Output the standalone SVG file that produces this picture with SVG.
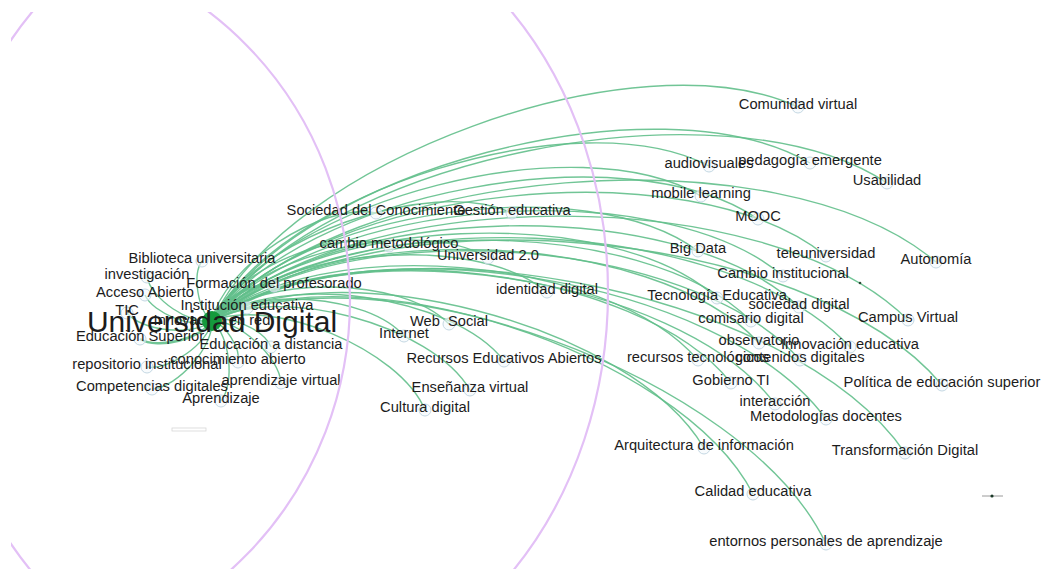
<svg xmlns="http://www.w3.org/2000/svg" width="1043" height="569" viewBox="0 0 1043 569">
<style>
.e{fill:none;stroke:#62bf8b;stroke-width:1.4;stroke-opacity:0.9}
.w{stroke-width:2.6}
.n{fill:#f4f8fb;fill-opacity:0.6;stroke:#c5d8e3;stroke-width:1}
.t{font-family:"Liberation Sans",Arial,sans-serif;font-size:14.7px;fill:#1c1c1c;text-anchor:middle}
.big{font-size:30px}
.ring{fill:none;stroke:#e3c0f6;stroke-width:2.2}
</style>
<defs>
<clipPath id="frame"><rect x="11" y="12" width="1032" height="557"/></clipPath>
</defs>
<rect width="1043" height="569" fill="#ffffff"/>
<g id="connectors">
<path class="e" d="M212,321 C286.4,161 638,32.6 798,107"/>
<path class="e" d="M212,321 C280.4,190.6 578.6,97.6 709,166"/>
<path class="e" d="M212,321 C300,169.8 658.8,75 810,163"/>
<path class="e" d="M212,321 C319.4,158.4 724.4,75.6 887,183"/>
<path class="e" d="M212,321 C284.8,198.2 578.2,123.2 701,196"/>
<path class="e" d="M212,321 C300.8,191.4 628.4,130.2 758,219"/>
<path class="e" d="M212,321 C295.2,209.8 586.8,167.8 698,251"/>
<path class="e" d="M212,321 C321.8,185.2 690.2,146.2 826,256"/>
<path class="e" d="M212,321 C317.2,197.8 659.8,170.8 783,276"/>
<path class="e" d="M212,321 C345,164.4 779.4,129 936,262"/>
<path class="e" d="M212,321 C308.4,215.4 611.4,201.6 717,298"/>
<path class="e" d="M212,321 C326.6,200.8 678.8,192.4 799,307"/>
<path class="e" d="M212,321 C319.8,213.2 643.2,213.2 751,321"/>
<path class="e" d="M212,321 C351,181.6 768.6,181 908,320"/>
<path class="e" d="M212,321 C325.8,216 654,229.2 759,343"/>
<path class="e" d="M212,321 C344.8,198.6 727.6,214.2 850,347"/>
<path class="e" d="M212,321 C317,231.6 608.6,255 698,360"/>
<path class="e" d="M212,321 C337.4,211.2 690.2,234.6 800,360"/>
<path class="e" d="M212,321 C328.2,229.6 639.6,266.8 731,383"/>
<path class="e" d="M212,321 C370.8,187.8 808.8,226.2 942,385"/>
<path class="e" d="M212,321 C341.2,225 679,274.8 775,404"/>
<path class="e" d="M212,321 C354.4,217.8 722.8,276.6 826,419"/>
<path class="e" d="M212,321 C377,208.8 792.8,288 905,453"/>
<path class="e" d="M212,321 C335.8,248 631,324.2 704,448"/>
<path class="e" d="M212,321 C354.8,247.4 679.4,351.2 753,494"/>
<path class="e" d="M212,321 C379.4,242.8 747.8,376.6 826,544"/>
<path class="e" d="M212,321 C223.2,266.6 321.6,201.8 376,213"/>
<path class="e" d="M212,321 C250.4,239.4 430.4,174.6 512,213"/>
<path class="e" d="M212,321 C232.4,270.6 338.6,225.6 389,246"/>
<path class="e" d="M212,321 C254.6,253.2 420.2,215.4 488,258"/>
<path class="e" d="M212,321 C273.2,248.2 474.2,230.8 547,292"/>
<path class="e" d="M212,321 C260,274.2 402.2,276 449,324"/>
<path class="e" d="M212,321 C253.4,285.6 368.6,294.6 404,336"/>
<path class="e" d="M212,321 C278.4,270.6 453.6,294.6 504,361"/>
<path class="e" d="M212,321 C277.4,283.2 432.2,324.6 470,390"/>
<path class="e" d="M212,321 C272.4,296.2 400.2,349.6 425,410"/>
<path class="e" d="M212,321 C198,311 192,275 202,261"/>
<path class="e" d="M212,321 C190.2,325.2 151.2,298.8 147,277"/>
<path class="e w" d="M212,321 C217.4,301.6 254.6,280.6 274,286"/>
<path class="e" d="M212,321 C193.4,329.2 153.2,313.6 145,295"/>
<path class="e" d="M212,321 C193.4,336.4 142.4,331.6 127,313"/>
<path class="e w" d="M212,321 C216.4,311.4 237.4,303.6 247,308"/>
<path class="e w" d="M212,321 C201.2,339 158,349.8 140,339"/>
<path class="e" d="M212,321 C229,314.4 264.4,330 271,347"/>
<path class="e" d="M212,321 C208.2,343.2 169.2,370.8 147,367"/>
<path class="e" d="M212,321 C225.4,324 241,348.6 238,362"/>
<path class="e" d="M212,321 C213.6,346.6 177.6,387.4 152,389"/>
<path class="e" d="M212,321 C238.2,319.6 279.6,356.8 281,383"/>
<path class="e" d="M212,321 C229.8,335.2 235.2,383.2 221,401"/>
</g>
<g id="nodes">
<g id="n-comunidad-virtual"><circle class="n" cx="798" cy="107" r="6"/><text class="t" x="798" y="109">Comunidad virtual</text></g>
<g id="n-audiovisuales"><circle class="n" cx="709" cy="166" r="6"/><text class="t" x="709" y="168">audiovisuales</text></g>
<g id="n-pedagogia-emergente"><circle class="n" cx="810" cy="163" r="6"/><text class="t" x="810" y="165">pedagogía emergente</text></g>
<g id="n-usabilidad"><circle class="n" cx="887" cy="183" r="6"/><text class="t" x="887" y="185">Usabilidad</text></g>
<g id="n-mobile-learning"><circle class="n" cx="701" cy="196" r="6"/><text class="t" x="701" y="198">mobile learning</text></g>
<g id="n-mooc"><circle class="n" cx="758" cy="219" r="6"/><text class="t" x="758" y="221">MOOC</text></g>
<g id="n-big-data"><circle class="n" cx="698" cy="251" r="6"/><text class="t" x="698" y="253">Big Data</text></g>
<g id="n-teleuniversidad"><circle class="n" cx="826" cy="256" r="6"/><text class="t" x="826" y="258">teleuniversidad</text></g>
<g id="n-cambio-institucional"><circle class="n" cx="783" cy="276" r="6"/><text class="t" x="783" y="278">Cambio institucional</text></g>
<g id="n-autonomia"><circle class="n" cx="936" cy="262" r="6"/><text class="t" x="936" y="264">Autonomía</text></g>
<g id="n-tecnologia-educativa"><circle class="n" cx="717" cy="298" r="6"/><text class="t" x="717" y="300">Tecnología Educativa</text></g>
<g id="n-sociedad-digital"><circle class="n" cx="799" cy="307" r="6"/><text class="t" x="799" y="309">sociedad digital</text></g>
<g id="n-comisario-digital"><circle class="n" cx="751" cy="321" r="6"/><text class="t" x="751" y="323">comisario digital</text></g>
<g id="n-campus-virtual"><circle class="n" cx="908" cy="320" r="6"/><text class="t" x="908" y="322">Campus Virtual</text></g>
<g id="n-observatorio"><circle class="n" cx="759" cy="343" r="6"/><text class="t" x="759" y="345">observatorio</text></g>
<g id="n-innovacion-educativa"><circle class="n" cx="850" cy="347" r="6"/><text class="t" x="850" y="349">Innovación educativa</text></g>
<g id="n-recursos-tecnologicos"><circle class="n" cx="698" cy="360" r="6"/><text class="t" x="698" y="362">recursos tecnológicos</text></g>
<g id="n-contenidos-digitales"><circle class="n" cx="800" cy="360" r="6"/><text class="t" x="800" y="362">contenidos digitales</text></g>
<g id="n-gobierno-ti"><circle class="n" cx="731" cy="383" r="6"/><text class="t" x="731" y="385">Gobierno TI</text></g>
<g id="n-politica"><circle class="n" cx="942" cy="385" r="6"/><text class="t" x="942" y="387">Política de educación superior</text></g>
<g id="n-interaccion"><circle class="n" cx="775" cy="404" r="6"/><text class="t" x="775" y="406">interacción</text></g>
<g id="n-metodologias"><circle class="n" cx="826" cy="419" r="6"/><text class="t" x="826" y="421">Metodologías docentes</text></g>
<g id="n-transformacion"><circle class="n" cx="905" cy="453" r="6"/><text class="t" x="905" y="455">Transformación Digital</text></g>
<g id="n-arquitectura"><circle class="n" cx="704" cy="448" r="6"/><text class="t" x="704" y="450">Arquitectura de información</text></g>
<g id="n-calidad"><circle class="n" cx="753" cy="494" r="6"/><text class="t" x="753" y="496">Calidad educativa</text></g>
<g id="n-entornos"><circle class="n" cx="826" cy="544" r="6"/><text class="t" x="826" y="546">entornos personales de aprendizaje</text></g>
<g id="n-sociedad-conocimiento"><circle class="n" cx="376" cy="213" r="6"/><text class="t" x="376" y="215">Sociedad del Conocimiento</text></g>
<g id="n-gestion-educativa"><circle class="n" cx="512" cy="213" r="6"/><text class="t" x="512" y="215">Gestión educativa</text></g>
<g id="n-cambio-metodologico"><circle class="n" cx="389" cy="246" r="6"/><text class="t" x="389" y="248">cambio metodológico</text></g>
<g id="n-universidad-20"><circle class="n" cx="488" cy="258" r="6"/><text class="t" x="488" y="260">Universidad 2.0</text></g>
<g id="n-identidad-digital"><circle class="n" cx="547" cy="292" r="6"/><text class="t" x="547" y="294">identidad digital</text></g>
<g id="n-web-social"><circle class="n" cx="449" cy="324" r="6"/><text class="t" x="449" y="326" word-spacing="4">Web Social</text></g>
<g id="n-internet"><circle class="n" cx="404" cy="336" r="6"/><text class="t" x="404" y="338">Internet</text></g>
<g id="n-rea"><circle class="n" cx="504" cy="361" r="6"/><text class="t" x="504" y="363">Recursos Educativos Abiertos</text></g>
<g id="n-ensenanza-virtual"><circle class="n" cx="470" cy="390" r="6"/><text class="t" x="470" y="392">Enseñanza virtual</text></g>
<g id="n-cultura-digital"><circle class="n" cx="425" cy="410" r="6"/><text class="t" x="425" y="412">Cultura digital</text></g>
<g id="n-biblioteca"><circle class="n" cx="202" cy="261" r="6"/><text class="t" x="202" y="263">Biblioteca universitaria</text></g>
<g id="n-investigacion"><circle class="n" cx="147" cy="277" r="6"/><text class="t" x="147" y="279">investigación</text></g>
<g id="n-formacion"><circle class="n" cx="274" cy="286" r="6"/><text class="t" x="274" y="288">Formación del profesorado</text></g>
<g id="n-acceso-abierto"><circle class="n" cx="145" cy="295" r="6"/><text class="t" x="145" y="297">Acceso Abierto</text></g>
<g id="n-tic"><circle class="n" cx="127" cy="313" r="6"/><text class="t" x="127" y="315">TIC</text></g>
<g id="n-institucion"><circle class="n" cx="247" cy="308" r="6"/><text class="t" x="247" y="310">Institución educativa</text></g>
<g id="n-educacion-superior"><circle class="n" cx="140" cy="339" r="6"/><text class="t" x="140" y="341">Educación Superior</text></g>
<g id="n-innovacion-red"><circle class="n" cx="212" cy="323" r="6"/><text class="t" x="212" y="325">Innovación en red</text></g>
<g id="n-educacion-distancia"><circle class="n" cx="271" cy="347" r="6"/><text class="t" x="271" y="349">Educación a distancia</text></g>
<g id="n-repositorio"><circle class="n" cx="147" cy="367" r="6"/><text class="t" x="147" y="369">repositorio institucional</text></g>
<g id="n-conocimiento-abierto"><circle class="n" cx="238" cy="362" r="6"/><text class="t" x="238" y="364">conocimiento abierto</text></g>
<g id="n-competencias"><circle class="n" cx="152" cy="389" r="6"/><text class="t" x="152" y="391">Competencias digitales</text></g>
<g id="n-aprendizaje-virtual"><circle class="n" cx="281" cy="383" r="6"/><text class="t" x="281" y="385">aprendizaje virtual</text></g>
<g id="n-aprendizaje"><circle class="n" cx="221" cy="401" r="6"/><text class="t" x="221" y="403">Aprendizaje</text></g>
<g id="n-universidad-digital"><circle cx="212" cy="321" r="10" fill="#149a3c"/><text class="t big" x="212" y="332">Universidad Digital</text></g>
</g>
<g id="marks">
<circle cx="860" cy="283" r="1.3" fill="#2a4a35"/>
<line x1="982" y1="496" x2="1003" y2="496" stroke="#9a9a9a" stroke-width="1"/>
<circle cx="992" cy="496" r="1.6" fill="#1c3a28"/>
<rect x="172" y="428" width="34" height="3" fill="none" stroke="#d6d6d6" stroke-width="0.8"/>
</g>
<g id="rings" clip-path="url(#frame)">
<ellipse class="ring" cx="0" cy="300" rx="350" ry="359"/>
<ellipse class="ring" cx="272" cy="292" rx="336" ry="400"/>
</g>
</svg>
